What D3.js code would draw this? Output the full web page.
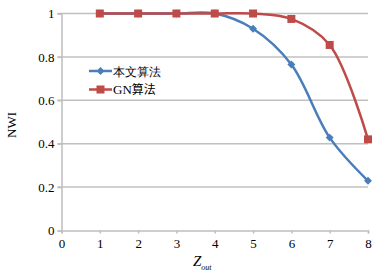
<!DOCTYPE html>
<html>
<head>
<meta charset="utf-8">
<script src="https://cdn.jsdelivr.net/npm/d3@7"></script>
<style>
  body { margin: 0; background: #fff; }
  svg text { font-family: "Liberation Serif", "Times New Roman", serif; }
</style>
</head>
<body>
<div id="chart"></div>
<script>
"use strict"

const zOut = [1, 2, 3, 4, 5, 6, 7, 8]
const ours = [1, 1, 1, 1, 0.93, 0.765, 0.428, 0.229]
const gn = [1, 1, 1, 1, 1, 0.975, 0.855, 0.42]
const xTicks = [0, 1, 2, 3, 4, 5, 6, 7, 8]
const yTicks = [0, 0.2, 0.4, 0.6, 0.8, 1]
const seriesNames = ["本文算法", "GN算法"]

const W = 378, H = 274
const margin = {top: 13.5, left: 61.5}
const serif = "Liberation Serif, serif"
const cjk = "Noto Sans CJK SC, sans-serif"

const svg = d3.select("#chart").append("svg")
  .attr("width", W).attr("height", H)

const g = svg.append("g")
  .attr("transform", "translate(" + margin.left + "," + margin.top + ")")

const x = d3.scaleLinear().domain([0, 8]).range([0, 306.5])
const y = d3.scaleLinear().domain([0, 1]).range([217, 0])

// gridlines
g.append("g").selectAll("line")
  .data(yTicks.filter(d => d > 0))
  .join("line")
  .attr("x1", -4).attr("x2", x(8))
  .attr("y1", d => y(d)).attr("y2", d => y(d))
  .attr("stroke", "#c0c0c0").attr("stroke-width", 1.5)

// y axis
const yAxis = g.append("g")
  .attr("font-family", serif)
  .call(d3.axisLeft(y).tickValues(yTicks).tickFormat(d3.format("")).tickSize(4).tickPadding(3))
yAxis.attr("font-family", serif)
yAxis.select(".domain").attr("stroke", "#bfbfbf").attr("stroke-width", 1.5)
yAxis.selectAll(".tick line").attr("stroke", "#bfbfbf").attr("stroke-width", 1.5)
yAxis.selectAll("text").attr("font-size", 13).attr("fill", "#000").attr("font-family", serif)

// x axis
const xAxis = g.append("g")
  .attr("transform", "translate(0," + y(0) + ")")
  .call(d3.axisBottom(x).tickValues(xTicks).tickSizeOuter(0).tickSize(3).tickPadding(5))
xAxis.attr("font-family", serif)
xAxis.select(".domain").attr("stroke", "#bfbfbf").attr("stroke-width", 1.5)
xAxis.selectAll(".tick line").attr("stroke", "#bfbfbf").attr("stroke-width", 1.5)
xAxis.selectAll("text").attr("font-size", 13).attr("fill", "#000").attr("font-family", serif)

// axis titles
svg.append("text")
  .attr("transform", "translate(16,125) rotate(-90)")
  .attr("text-anchor", "middle")
  .attr("font-family", serif)
  .attr("font-size", 13)
  .text("NWI")

const zt = svg.append("text")
  .attr("x", 193).attr("y", 266)
  .attr("font-family", serif)
  .attr("font-size", 15)
  .attr("font-style", "italic")
zt.append("tspan").text("Z")
zt.append("tspan").attr("font-size", 8).attr("dy", 4).text("out")

// lines
const line = d3.line()
  .x((d, i) => x(zOut[i]))
  .y(d => y(d))
  .curve(d3.curveCatmullRom.alpha(0.5))

const blue = "#4a7ebb", red = "#be4b48"

g.append("path").datum(ours)
  .attr("fill", "none").attr("stroke", blue).attr("stroke-width", 2.5)
  .attr("d", line)
g.append("path").datum(gn)
  .attr("fill", "none").attr("stroke", red).attr("stroke-width", 2.5)
  .attr("d", line)

const diamond = d3.symbol().type(d3.symbolDiamond2).size(40)
g.append("g").selectAll("path")
  .data(ours)
  .join("path")
  .attr("transform", (d, i) => "translate(" + x(zOut[i]) + "," + y(d) + ")")
  .attr("d", diamond)
  .attr("fill", blue)

g.append("g").selectAll("rect")
  .data(gn)
  .join("rect")
  .attr("x", (d, i) => x(zOut[i]) - 4)
  .attr("y", d => y(d) - 4)
  .attr("width", 8).attr("height", 8)
  .attr("fill", red)

// legend
const legend = svg.append("g")
const colors = [blue, red]
seriesNames.forEach((name, i) => {
  const ly = 71 + i * 18.5
  legend.append("line")
    .attr("x1", 89).attr("x2", 112).attr("y1", ly).attr("y2", ly)
    .attr("stroke", colors[i]).attr("stroke-width", 2.5)
  if (i === 0) {
    legend.append("path")
      .attr("transform", "translate(100.5," + ly + ")")
      .attr("d", diamond).attr("fill", blue)
  } else {
    legend.append("rect")
      .attr("x", 96.5).attr("y", ly - 4).attr("width", 8).attr("height", 8)
      .attr("fill", red)
  }
  const t = legend.append("text")
    .attr("x", 113).attr("y", ly + 4.5)
    .attr("font-family", serif)
    .attr("font-size", 13)
  if (i === 0) {
    t.attr("font-family", cjk).attr("font-size", 12).text(name)
  } else {
    t.append("tspan").text("GN")
    t.append("tspan").attr("font-family", cjk).attr("font-size", 12).text("算法")
  }
})
</script>
</body>
</html>
